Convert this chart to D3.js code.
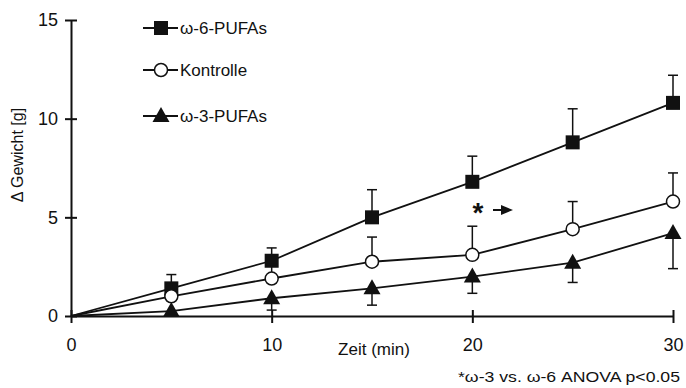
<!DOCTYPE html>
<html>
<head>
<meta charset="utf-8">
<script src="https://cdn.jsdelivr.net/npm/d3@7"></script>
<style>
  body { margin: 0; background: #fff; }
  text { font-family: "Liberation Sans", Arial, sans-serif; fill: #111; }
</style>
</head>
<body>
<svg width="686" height="388"></svg>
<script>
const times = [0, 5, 10, 15, 20, 25, 30];
const omega6 = [0, 1.4, 2.8, 5.0, 6.8, 8.8, 10.8];
const omega6Err = [0, 0.7, 0.65, 1.4, 1.3, 1.7, 1.4];
const kontrolle = [0, 1.0, 1.9, 2.75, 3.1, 4.4, 5.8];
const kontrolleErr = [0, 0.6, 0.7, 1.25, 1.45, 1.4, 1.45];
const omega3 = [0, 0.25, 0.9, 1.4, 2.0, 2.7, 4.2];
const omega3Err = [0, 0, 0.6, 0.85, 0.85, 1.0, 1.8];
const xTicks = [0, 10, 20, 30];
const yTicks = [0, 5, 10, 15];

const svg = d3.select("svg");
const x = d3.scaleLinear().domain([0, 30]).range([71, 673]);
const y = d3.scaleLinear().domain([0, 15]).range([316, 20]);

const g = svg.append("g");

// axes
const yAxis = g.append("g")
    .attr("transform", "translate(71,0)")
    .call(d3.axisLeft(y).tickValues(yTicks).tickSizeInner(6).tickSizeOuter(0).tickPadding(7));
const xAxis = g.append("g")
    .attr("transform", "translate(0,316)")
    .call(d3.axisBottom(x).tickValues(xTicks).tickSizeInner(0).tickSizeOuter(0).tickPadding(22));
[yAxis, xAxis].forEach(a => {
    a.select(".domain").attr("stroke", "#111").attr("stroke-width", 2);
    a.selectAll(".tick line").attr("stroke", "#111").attr("stroke-width", 2);
    a.selectAll(".tick text").style("font-size", "18px").attr("fill", "#111");
});
yAxis.selectAll(".tick line").attr("x1", 6);
xAxis.selectAll(".tick line").attr("y1", -6).attr("y2", 7);

g.append("text")
    .attr("transform", "translate(23,155) rotate(-90)")
    .attr("text-anchor", "middle")
    .style("font-size", "16px")
    .text("Δ  Gewicht [g]");

g.append("text")
    .attr("x", 374).attr("y", 355)
    .attr("text-anchor", "middle")
    .style("font-size", "17px")
    .text("Zeit (min)");

g.append("text")
    .attr("x", 458).attr("y", 382)
    .attr("textLength", 222).attr("lengthAdjust", "spacingAndGlyphs")
    .style("font-size", "14px")
    .text("*ω-3 vs. ω-6 ANOVA p<0.05");

const series = [
    { name: "ω-6-PUFAs", values: omega6, err: omega6Err, dir: 1, shape: "square" },
    { name: "Kontrolle", values: kontrolle, err: kontrolleErr, dir: 1, shape: "circle" },
    { name: "ω-3-PUFAs", values: omega3, err: omega3Err, dir: -1, shape: "triangle" }
];

const line = d3.line().x(d => x(d[0])).y(d => y(d[1]));

function drawMarker(sel, shape) {
    if (shape === "square") {
        sel.append("rect").attr("x", -7).attr("y", -7).attr("width", 14).attr("height", 14)
            .attr("fill", "#111");
    } else if (shape === "circle") {
        sel.append("circle").attr("r", 6.5).attr("fill", "#fff")
            .attr("stroke", "#111").attr("stroke-width", 1.5);
    } else {
        sel.append("path").attr("d", "M0,-9 L8.5,6 L-8.5,6 Z")
            .attr("fill", "#111");
    }
}

series.forEach(s => {
    const pts = times.map((t, i) => [t, s.values[i], s.err[i]]);
    const sg = g.append("g");
    // error bars
    pts.filter(p => p[2] > 0).forEach(p => {
        const y2 = y(p[1] + s.dir * p[2]);
        sg.append("line").attr("x1", x(p[0])).attr("x2", x(p[0]))
            .attr("y1", y(p[1])).attr("y2", y2)
            .attr("stroke", "#111").attr("stroke-width", 1.5);
        sg.append("line").attr("x1", x(p[0]) - 5).attr("x2", x(p[0]) + 5)
            .attr("y1", y2).attr("y2", y2)
            .attr("stroke", "#111").attr("stroke-width", 1.5);
    });
    sg.append("path").datum(pts).attr("d", line)
        .attr("fill", "none").attr("stroke", "#111").attr("stroke-width", 1.8);
    pts.slice(1).forEach(p => {
        const m = sg.append("g").attr("transform", `translate(${x(p[0])},${y(p[1])})`);
        drawMarker(m, s.shape);
    });
});

// legend
const legendY = [28, 70, 116];
series.forEach((s, i) => {
    const lg = g.append("g").attr("transform", `translate(0,${legendY[i]})`);
    lg.append("line").attr("x1", 143).attr("x2", 178).attr("y1", 0).attr("y2", 0)
        .attr("stroke", "#111").attr("stroke-width", 1.8);
    const m = lg.append("g").attr("transform", "translate(161,0)");
    drawMarker(m, s.shape);
    lg.append("text").attr("x", 180).attr("y", 6)
        .style("font-size", "17px")
        .text(s.name);
});

// significance marker
g.append("text").attr("x", 478).attr("y", 222)
    .attr("text-anchor", "middle")
    .style("font-size", "28px").style("font-weight", "bold")
    .text("*");
g.append("line").attr("x1", 493).attr("x2", 503).attr("y1", 210).attr("y2", 210)
    .attr("stroke", "#111").attr("stroke-width", 2);
g.append("path").attr("d", "M501,205 L513,210 L501,215 Z").attr("fill", "#111");
</script>
</body>
</html>
